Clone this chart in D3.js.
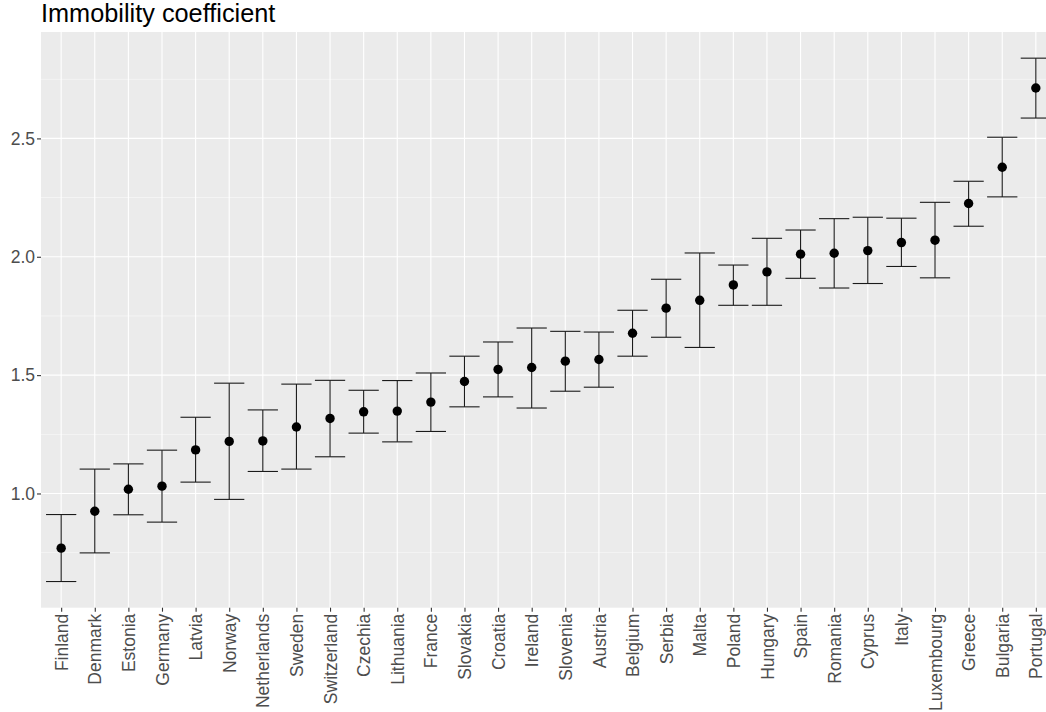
<!DOCTYPE html>
<html>
<head>
<meta charset="utf-8">
<script src="https://cdn.jsdelivr.net/npm/d3@7"></script>
<style>
  html, body { margin: 0; padding: 0; background: #fff; }
  svg { display: block; }
</style>
</head>
<body>
<svg id="chart" width="1046" height="712"></svg>
<script>
// Immobility coefficient by country with confidence intervals
const countries = ["Finland", "Denmark", "Estonia", "Germany", "Latvia", "Norway", "Netherlands",
  "Sweden", "Switzerland", "Czechia", "Lithuania", "France", "Slovakia", "Croatia", "Ireland",
  "Slovenia", "Austria", "Belgium", "Serbia", "Malta", "Poland", "Hungary", "Spain", "Romania",
  "Cyprus", "Italy", "Luxembourg", "Greece", "Bulgaria", "Portugal"];
const estimate = [0.769, 0.925, 1.018, 1.031, 1.184, 1.220, 1.222, 1.281, 1.317, 1.345, 1.348,
  1.386, 1.473, 1.524, 1.532, 1.559, 1.566, 1.677, 1.783, 1.816, 1.881, 1.936, 2.011, 2.015,
  2.026, 2.060, 2.070, 2.225, 2.378, 2.713];
const lower = [0.628, 0.749, 0.910, 0.879, 1.048, 0.975, 1.093, 1.103, 1.155, 1.255, 1.218,
  1.262, 1.366, 1.408, 1.361, 1.432, 1.449, 1.580, 1.660, 1.617, 1.795, 1.795, 1.909, 1.868,
  1.887, 1.959, 1.911, 2.129, 2.253, 2.586];
const upper = [0.911, 1.103, 1.125, 1.183, 1.322, 1.466, 1.353, 1.462, 1.478, 1.436, 1.477,
  1.509, 1.580, 1.640, 1.699, 1.685, 1.682, 1.774, 1.905, 2.016, 1.965, 2.078, 2.113, 2.161,
  2.167, 2.163, 2.230, 2.319, 2.505, 2.839];
const yTicks = [1.0, 1.5, 2.0, 2.5];
const yMinor = [0.75, 1.25, 1.75, 2.25, 2.75];
const title = "Immobility coefficient";

const rows = countries.map((c, i) => ({ country: c, est: estimate[i], lo: lower[i], hi: upper[i] }));

const panel = { left: 41, right: 1056, top: 32, bottom: 607.7 };
const font = "'Liberation Sans', Arial, sans-serif";

const svg = d3.select("#chart");

const x = d3.scalePoint()
  .domain(countries)
  .range([panel.left, panel.right])
  .padding(0.6);

const lo = d3.min(lower), hi = d3.max(upper);
const pad = (hi - lo) * 0.05;
const y = d3.scaleLinear()
  .domain([lo - pad, hi + pad])
  .range([panel.bottom, panel.top]);

// panel background
svg.append("rect")
  .attr("x", panel.left).attr("y", panel.top)
  .attr("width", panel.right - panel.left).attr("height", panel.bottom - panel.top)
  .attr("fill", "#EBEBEB");

const grid = svg.append("g");
grid.selectAll("line.minor").data(yMinor).join("line")
  .attr("x1", panel.left).attr("x2", panel.right)
  .attr("y1", d => y(d)).attr("y2", d => y(d))
  .attr("stroke", "#fff").attr("stroke-width", 0.55).attr("opacity", 0.9);
grid.selectAll("line.majory").data(yTicks).join("line")
  .attr("x1", panel.left).attr("x2", panel.right)
  .attr("y1", d => y(d)).attr("y2", d => y(d))
  .attr("stroke", "#fff").attr("stroke-width", 1.1);
grid.selectAll("line.majorx").data(countries).join("line")
  .attr("x1", d => x(d)).attr("x2", d => x(d))
  .attr("y1", panel.top).attr("y2", panel.bottom)
  .attr("stroke", "#fff").attr("stroke-width", 1.1);

// error bars
const capHalf = x.step() * 0.45;
const bars = svg.append("g").attr("stroke", "#1a1a1a").attr("stroke-width", 1.1);
bars.selectAll("line.v").data(rows).join("line")
  .attr("x1", d => x(d.country)).attr("x2", d => x(d.country))
  .attr("y1", d => y(d.lo)).attr("y2", d => y(d.hi));
bars.selectAll("line.t").data(rows).join("line")
  .attr("x1", d => x(d.country) - capHalf).attr("x2", d => x(d.country) + capHalf)
  .attr("y1", d => y(d.hi)).attr("y2", d => y(d.hi));
bars.selectAll("line.b").data(rows).join("line")
  .attr("x1", d => x(d.country) - capHalf).attr("x2", d => x(d.country) + capHalf)
  .attr("y1", d => y(d.lo)).attr("y2", d => y(d.lo));

// point estimates
svg.append("g").selectAll("circle").data(rows).join("circle")
  .attr("cx", d => x(d.country)).attr("cy", d => y(d.est))
  .attr("r", 4.7).attr("fill", "#000");

// y axis
const yAxis = svg.append("g")
  .attr("transform", `translate(${panel.left},0)`)
  .call(d3.axisLeft(y).tickValues(yTicks).tickFormat(d3.format(".1f")).tickSize(4).tickPadding(2));
yAxis.select(".domain").remove();
yAxis.selectAll(".tick line").attr("stroke", "#333").attr("stroke-width", 1.1);
yAxis.selectAll(".tick text")
  .attr("fill", "#4D4D4D").style("font-family", font).style("font-size", "17.5px");

// x axis
const xAxis = svg.append("g")
  .attr("transform", `translate(0,${panel.bottom})`)
  .call(d3.axisBottom(x).tickSize(4).tickPadding(2));
xAxis.select(".domain").remove();
xAxis.selectAll(".tick line").attr("stroke", "#333").attr("stroke-width", 1.1);
xAxis.selectAll(".tick text")
  .attr("fill", "#4D4D4D").style("font-family", font).style("font-size", "17.5px")
  .attr("transform", "rotate(-90)")
  .attr("x", -6).attr("y", 0).attr("dy", "0.35em")
  .attr("text-anchor", "end");

// title
svg.append("text")
  .attr("x", panel.left).attr("y", 22)
  .style("font-family", font).style("font-size", "25.3px")
  .attr("fill", "#000")
  .text(title);
</script>
</body>
</html>
